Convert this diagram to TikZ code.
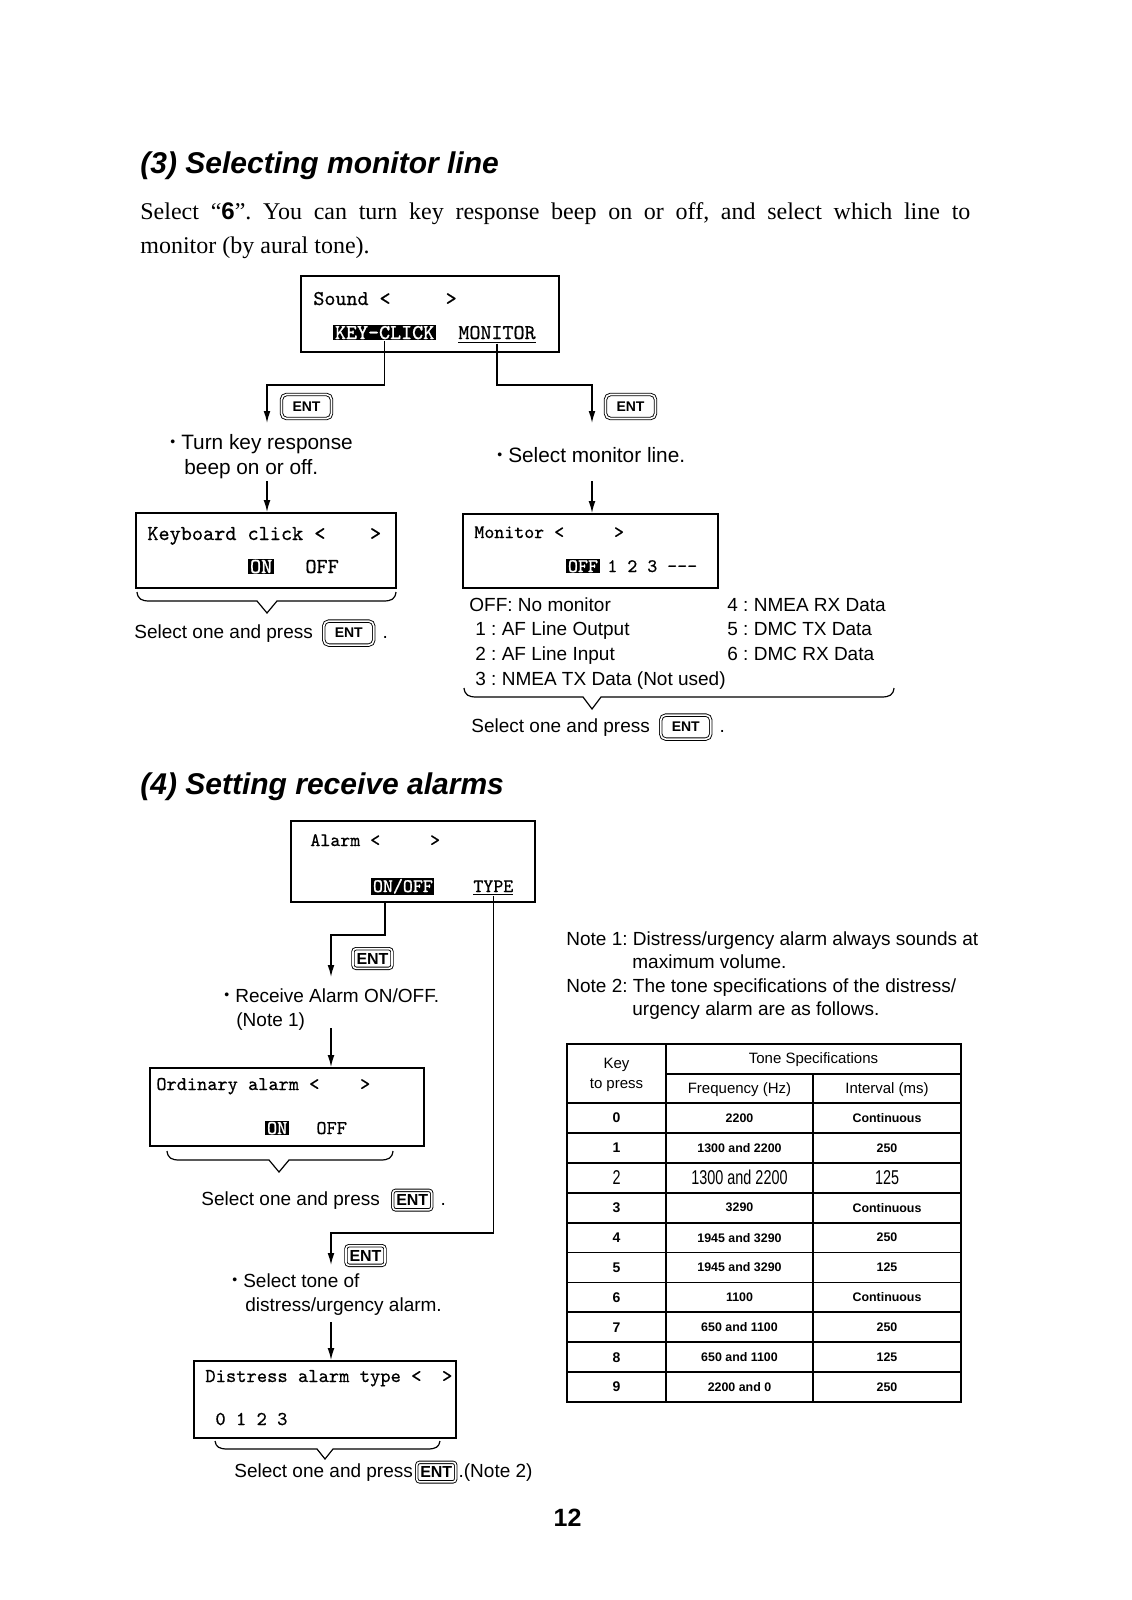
\documentclass[tikz,border=0pt]{standalone}
\usepackage{fontspec}
\setmainfont{Liberation Serif}
\setsansfont{Liberation Sans}
\newfontfamily\narrowsf[FakeStretch=0.72]{Liberation Sans}
\newfontfamily\lcdfont[FakeBold=0.6]{lmmono10-regular.otf}
\newfontfamily\lcdinvfont[FakeBold=1.1]{lmmono10-regular.otf}
\usetikzlibrary{positioning,arrows.meta,calc}
\newcommand{\listdot}{\raisebox{1.1pt}{\fontsize{7}{7}\selectfont•}\hspace{3pt}}
\frenchspacing

\begin{document}
\begin{tikzpicture}[x=0.5pt,y=-0.5pt,
    sechead/.style={anchor=base west, inner sep=0pt, font=\sffamily\bfseries\itshape\fontsize{15}{18}\selectfont},
    para/.style={anchor=base west, inner sep=0pt, font=\rmfamily\fontsize{12}{17}\selectfont},
    lbl/.style={anchor=base west, inner sep=0pt, font=\sffamily\fontsize{9.5}{11}\selectfont},
    lblbig/.style={lbl, font=\sffamily\fontsize{10.4}{12}\selectfont},
    lcdtext/.style={anchor=base west, inner sep=0pt, font=\lcdfont\fontsize{#1}{12}\selectfont},
    lcdinv/.style={anchor=base west, inner xsep=0.8pt, inner ysep=0.6pt, fill=black, text=white, font=\lcdinvfont\fontsize{#1}{12}\selectfont},
    screenbox/.style={draw, line width=0.9pt, inner sep=0pt},
    entkey/.style={draw, double, double distance=0.8pt, line width=0.45pt, rounded corners=2.5pt, minimum width=25pt, minimum height=12pt, inner sep=0pt, font=\sffamily\bfseries\fontsize{7}{8}\selectfont},
    entsmall/.style={entkey, minimum width=19.5pt, minimum height=9.8pt, rounded corners=1.5pt, font=\sffamily\bfseries\fontsize{8}{8}\selectfont},
    flowarr/.style={line width=0.7pt, -{Latex[length=6pt,width=3.4pt]}},
    selbrace/.style={line width=0.6pt},
    tabline/.style={line width=0.9pt},
    tabhead/.style={inner sep=0pt, font=\sffamily\fontsize{7.5}{9}\selectfont},
    tabcell/.style={inner sep=0pt, font=\sffamily\bfseries\fontsize{6.2}{8}\selectfont},
    tabkey/.style={inner sep=0pt, font=\sffamily\bfseries\fontsize{7}{8}\selectfont},
    tabbig/.style={inner sep=0pt, font=\narrowsf\fontsize{10}{11}\selectfont}
  ]
  \path[fill=white] (0,0) rectangle (1131,1600);
  \useasboundingbox (0,0) rectangle (1131,1600);

  %Nodes -- (3)
  \node[sechead] at (140,173) (title3) {(3) Selecting monitor line};
  \node[para] at (140,219) (intro1) {\makebox[415pt][s]{Select “\textsf{\bfseries 6}”. You can turn key response beep on or off, and select which line to}};
  \node[para] at (140,253) (intro2) {monitor (by aural tone).};

  \node[screenbox, minimum width=129pt, minimum height=38pt] at (430,314) (sound) {};
  \node[lcdtext=10.5] at (313,305) (soundhd) {Sound~<~~~~~>};
  \node[lcdinv=10.5] at (333,339) (keyclick) {KEY-CLICK};
  \node[lcdtext=10.5] at (458,339) (monitor) {\underline{MONITOR}};

  \node[entkey] at (306.5,406.5) (entA) {ENT};
  \node[entkey] at (630.5,406.5) (entB) {ENT};
  \node[lblbig] at (170,449) (turnA) {\listdot Turn key response};
  \node[lblbig] at (184,474) (turnB) {beep on or off.};
  \node[lblbig] at (497,462) (selmon) {\listdot Select monitor line.};

  \node[screenbox, minimum width=130pt, minimum height=37.5pt] at (266,550.5) (kbbox) {};
  \node[lcdtext=10.6] at (147,540) (kbhd) {Keyboard click~<~~~~>};
  \node[lcdinv=10.6] at (248,573) (kbon) {ON};
  \node[lcdtext=10.6] at (305,573) (kboff) {OFF};
  \node[lbl] at (134,638) (kbsel) {Select one and press};
  \node[entkey, right=5pt of kbsel] (kbent) {ENT};
  \path (kbent.east |- kbsel.base) node[lbl, xshift=4pt] (kbdot) {.};

  \node[screenbox, minimum width=127.5pt, minimum height=37pt] at (590.5,551) (monbox) {};
  \node[lcdtext=9.5] at (474,538) (monhd) {Monitor~<~~~~~>};
  \node[lcdinv=9.5] at (566,572) (monoff) {OFF};
  \node[lcdtext=9.5] at (607,572) (monnum) {1~2~3~-{}-{}-};

  \node[lbl] at (469,611) (line0) {OFF: No monitor};
  \node[lbl] at (475,635.8) (line1) {1 : AF Line Output};
  \node[lbl] at (475,660.6) (line2) {2 : AF Line Input};
  \node[lbl] at (475,685.4) (line3) {3 : NMEA TX Data (Not used)};
  \node[lbl] at (727,611) (line4) {4 : NMEA RX Data};
  \node[lbl] at (727,635.8) (line5) {5 : DMC TX Data};
  \node[lbl] at (727,660.6) (line6) {6 : DMC RX Data};
  \node[lbl] at (471,732) (monsel) {Select one and press};
  \node[entkey, right=5pt of monsel] (monent) {ENT};
  \path (monent.east |- monsel.base) node[lbl, xshift=4pt] (mondot) {.};

  %Nodes -- (4)
  \node[sechead] at (140,794) (title4) {(4) Setting receive alarms};
  \node[screenbox, minimum width=122pt, minimum height=40.5pt] at (413,861.5) (alarmbox) {};
  \node[lcdtext=9.5] at (310,846) (alarmhd) {Alarm~<~~~~~>};
  \node[lcdinv=9.5] at (371,892) (onoff) {ON/OFF};
  \node[lcdtext=9.5] at (473,892) (typesel) {\underline{TYPE}};

  \node[entsmall] at (372.5,958.5) (entC) {ENT};
  \node[lbl] at (224,1002) (rcvA) {\listdot Receive Alarm ON/OFF.};
  \node[lbl] at (236,1026) (rcvB) {(Note 1)};

  \node[screenbox, minimum width=137pt, minimum height=39pt] at (287,1107) (ordbox) {};
  \node[lcdtext=9.7] at (156,1090) (ordhd) {Ordinary alarm~<~~~~>};
  \node[lcdinv=9.7] at (265,1134) (ordon) {ON};
  \node[lcdtext=9.7] at (316,1134) (ordoff) {OFF};
  \node[lbl] at (201,1205) (ordsel) {Select one and press};
  \node[entsmall, right=6pt of ordsel] (ordent) {ENT};
  \path (ordent.east |- ordsel.base) node[lbl, xshift=4pt] (orddot) {.};

  \node[entsmall] at (365.5,1255.5) (entD) {ENT};
  \node[lbl] at (232,1287) (toneA) {\listdot Select tone of};
  \node[lbl] at (245,1311) (toneB) {distress/urgency alarm.};

  \node[screenbox, minimum width=131pt, minimum height=38.5pt] at (325,1399.5) (disbox) {};
  \node[lcdtext=9.8] at (205,1382) (dishd) {Distress alarm type~<~~>};
  \node[lcdtext=9.8] at (215,1425) (disnum) {0~1~2~3};
  \node[lbl] at (234,1477) (dissel) {Select one and press};
  \node[entsmall, right=1.5pt of dissel] (disent) {ENT};
  \path (disent.east |- dissel.base) node[lbl, xshift=1pt] (disnote) {.(Note 2)};

  \node[font=\sffamily\bfseries\fontsize{12.5}{14}\selectfont] at (567.5,1517.5) (pageno) {12};

  %Notes and table
  \node[lbl] at (566,945) (note1) {Note 1: Distress/urgency alarm always sounds at};
  \node[lbl] at (632,968.5) (note1b) {maximum volume.};
  \node[lbl] at (566,992) (note2) {Note 2: The tone specifications of the distress/};
  \node[lbl] at (632,1015.5) (note2b) {urgency alarm are as follows.};

  \draw[tabline] (567,1044) rectangle (961,1402);
  \draw[tabline] (666,1044) -- (666,1402);
  \draw[tabline] (813,1074) -- (813,1402);
  \draw[tabline] (666,1074) -- (961,1074);
  \foreach \r in {0,...,9}
    \draw[tabline] (567,{1103+29.9*\r}) -- (961,{1103+29.9*\r});

  \node[tabhead] at (616.5,1065) (keyhd) {Key};
  \node[tabhead] at (616.5,1085) (presshd) {to press};
  \node[tabhead] at (813.5,1060) (tonehd) {Tone Specifications};
  \node[tabhead] at (739.5,1090) (freqhd) {Frequency (Hz)};
  \node[tabhead] at (887,1090) (intvhd) {Interval (ms)};
  \foreach \k/\f/\t/\s/\ks in {0/2200/Continuous/tabcell/tabkey,
      1/1300 and 2200/250/tabcell/tabkey,
      2/1300 and 2200/125/tabbig/tabbig,
      3/3290/Continuous/tabcell/tabkey,
      4/1945 and 3290/250/tabcell/tabkey,
      5/1945 and 3290/125/tabcell/tabkey,
      6/1100/Continuous/tabcell/tabkey,
      7/650 and 1100/250/tabcell/tabkey,
      8/650 and 1100/125/tabcell/tabkey,
      9/2200 and 0/250/tabcell/tabkey} {
    \node[\ks] at (616.5,{1118+29.9*\k}) (key\k) {\k};
    \node[\s] at (739.5,{1118+29.9*\k}) (freq\k) {\f};
    \node[\s] at (887,{1118+29.9*\k}) (intv\k) {\t};
  }

  %Lines
  \coordinate (kcbend) at (267,385);
  \coordinate (kcend)  at (267,423);
  \coordinate (mobend) at (592,385);
  \coordinate (moend)  at (592,423);
  \coordinate (kbin)   at (267,481);
  \coordinate (monin)  at (592,481);
  \coordinate (oostart) at (385,902);
  \coordinate (oobend) at (331,935);
  \coordinate (ooend)  at (331,977);
  \coordinate (tybend) at (331,1233);
  \coordinate (tyend)  at (331,1265);
  \coordinate (rcvout) at (331,1028);
  \coordinate (toneout) at (331,1322);

  \draw[flowarr] (keyclick.south) |- (kcbend) -- (kcend);
  \draw[flowarr] (monitor.south) |- (mobend) -- (moend);
  \draw[flowarr] (kbin) -- (kbin |- kbbox.north);
  \draw[flowarr] (monin) -- (monin |- monbox.north);
  \draw[flowarr] (oostart) |- (oobend) -- (ooend);
  \draw[flowarr] (typesel.south) |- (tybend) -- (tyend);
  \draw[flowarr] (rcvout) -- (rcvout |- ordbox.north);
  \draw[flowarr] (toneout) -- (toneout |- disbox.north);

  %Braces
  \draw[selbrace] (137,592) .. controls (138,599) and (141,601) .. (150,601) -- (257,601) -- (267,613) -- (277,601) -- (383,601) .. controls (392,601) and (395,599) .. (396,592);
  \draw[selbrace] (464,688) .. controls (465,695) and (468,697) .. (477,697) -- (583,697) -- (592,709) -- (601,697) -- (881,697) .. controls (890,697) and (893,695) .. (894,688);
  \draw[selbrace] (167,1151) .. controls (168,1158) and (171,1160) .. (180,1160) -- (269,1160) -- (279,1172) -- (289,1160) -- (380,1160) .. controls (389,1160) and (392,1158) .. (393,1151);
  \draw[selbrace] (215,1441) .. controls (216,1447) and (219,1449) .. (228,1449) -- (317,1449) -- (325,1459) -- (333,1449) -- (427,1449) .. controls (436,1449) and (439,1447) .. (440,1441);
\end{tikzpicture}
\end{document}
